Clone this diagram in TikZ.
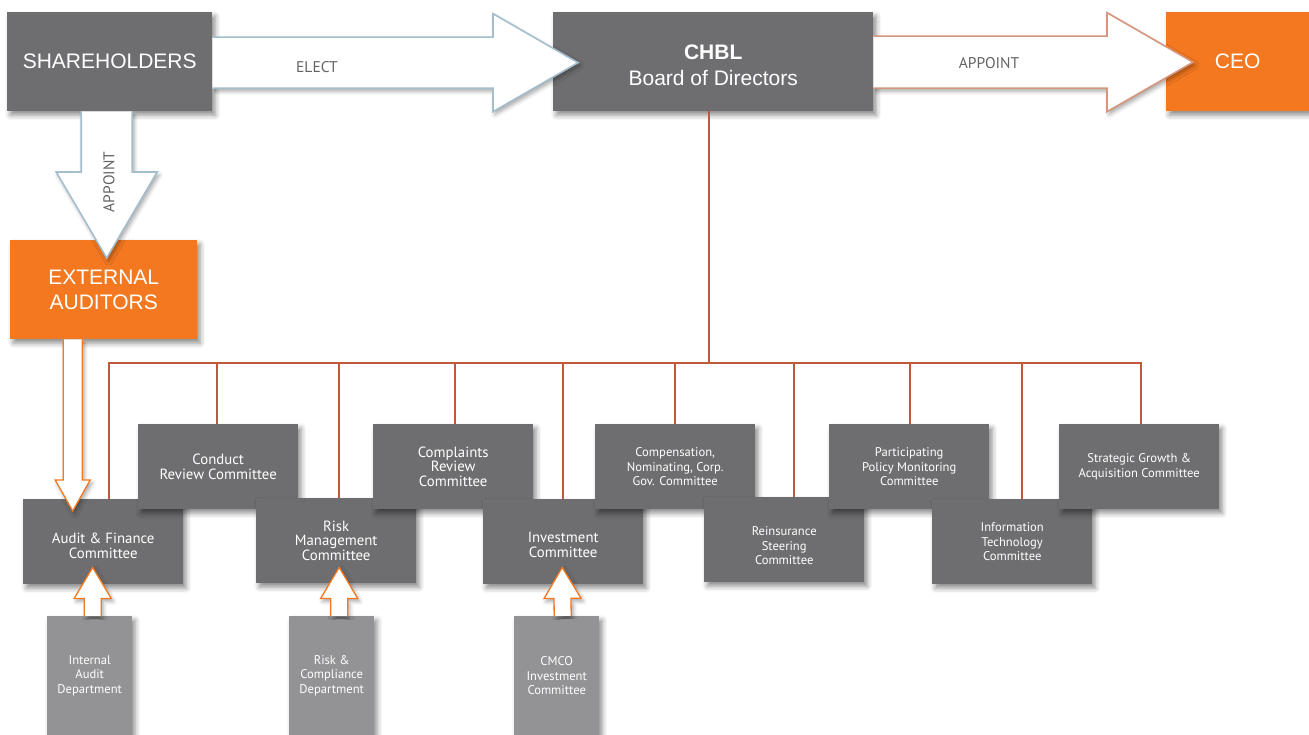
\documentclass[tikz,border=0pt]{standalone}
\usepackage{fontspec}
\setmainfont{Liberation Sans}
\newfontfamily\myriad{PT Sans}
\usepackage{tikz}
\usetikzlibrary{calc, shadows.blur}
\definecolor{boxgray}{RGB}{110,110,112}
\definecolor{deptgray}{RGB}{147,147,149}
\definecolor{cborange}{RGB}{244,120,32}
\definecolor{busred}{RGB}{192,88,58}
\definecolor{elblue}{RGB}{165,190,206}
\definecolor{apsalmon}{RGB}{214,150,126}
\definecolor{labelgray}{RGB}{100,100,100}

% block arrow: [style]{start}{tip}{shaft half width}{head half width}{head length}
\newcommand{\blockarrow}[6][]{%
	\coordinate (ba-s) at (#2);
	\coordinate (ba-t) at (#3);
	\coordinate (ba-b) at ($(ba-t)!#6!(ba-s)$);
	\path[#1] ($(ba-s)!#4!-90:(ba-t)$) -- ($(ba-b)!#4!-90:(ba-t)$)
		-- ($(ba-b)!#5!-90:(ba-t)$) -- (ba-t) -- ($(ba-b)!#5!90:(ba-t)$)
		-- ($(ba-b)!#4!90:(ba-t)$) -- ($(ba-s)!#4!90:(ba-t)$);
}

\begin{document}
\begin{tikzpicture}[x=1pt,y=-1pt]
	
	\tikzset{soft shadow/.style={blur shadow={shadow xshift=3pt, shadow yshift=-4pt,
				shadow blur radius=5pt, shadow opacity=45}}}
	\tikzset{top box/.style={rectangle, fill=boxgray, text=white, anchor=north west,
			inner sep=0pt, align=center, minimum height=99pt,
			font=\fontsize{21}{25}\selectfont, soft shadow}}
	\tikzset{comm/.style={rectangle, fill=boxgray, text=white, anchor=north west,
			inner sep=0pt, minimum width=160pt, minimum height=85pt, align=center,
			font=\myriad\fontsize{14.8}{14.5}\selectfont, soft shadow}}
	\tikzset{comm small/.style={comm, font=\myriad\fontsize{12.6}{14.7}\selectfont}}
	\tikzset{dept/.style={comm small, fill=deptgray, minimum width=85pt, minimum height=119pt}}
	\tikzset{bus line/.style={draw=busred, line width=2pt}}
	\tikzset{arrow label/.style={text=labelgray, inner sep=0pt,
			font=\myriad\fontsize{15.5}{18}\selectfont}}
	\tikzset{big arrow/.style={fill=white, line width=1.6pt, line join=miter,
			blur shadow={shadow xshift=2pt, shadow yshift=-3pt, shadow blur radius=4pt, shadow opacity=35}}}
	\tikzset{small arrow/.style={big arrow, draw=cborange, line width=1.3pt}}
	
	\useasboundingbox (0,0) rectangle (1309,735);
	
	% top row
	\node[top box, minimum width=205pt] (sh) at (7,12) {SHAREHOLDERS};
	\node[top box, minimum width=320pt, font=\fontsize{21}{26}\selectfont] (board) at (553,12) {\rule{0pt}{21pt}\textbf{CHBL}\\Board of Directors};
	\node[top box, fill=cborange, minimum width=143pt] (ceo) at (1166,12) {CEO};
	\node[top box, fill=cborange, minimum width=187pt] (ea) at (10,240) {EXTERNAL\\AUDITORS};
	
	% committees
	\node[comm] (audit) at (23,499) {\rule{0pt}{19pt}Audit \& Finance\\Committee};
	\node[comm] (conduct) at (138,424) {Conduct\\Review Committee};
	\node[comm] (riskm) at (256,498) {Risk\\Management\\Committee};
	\node[comm] (complaints) at (373,424) {Complaints\\Review\\Committee};
	\node[comm] (invest) at (483,499) {\rule{0pt}{17pt}Investment\\Committee};
	\node[comm small] (comp) at (595,424) {Compensation,\\Nominating, Corp.\\Gov. Committee};
	\node[comm small] (reins) at (704,497) {\rule{0pt}{21pt}Reinsurance\\Steering\\Committee};
	\node[comm small] (partic) at (829,424) {Participating\\Policy Monitoring\\Committee};
	\node[comm small] (itc) at (932,499) {Information\\Technology\\Committee};
	\node[comm small] (strat) at (1059,424) {Strategic Growth \&\\Acquisition Committee};
	
	% departments
	\node[dept] (iad) at (47,616) {Internal\\Audit\\Department};
	\node[dept] (rcd) at (289,616) {Risk \&\\Compliance\\Department};
	\node[dept] (cmco) at (514,616) {CMCO\\Investment\\Committee};
	
	% board to committees
	\coordinate (bus) at (0,362.5);
	\draw[bus line] ([xshift=-4pt]board.south) -- ([xshift=-4pt]board.south |- bus);
	\draw[bus line, line cap=rect] ([xshift=6pt]audit.north |- bus) -- ([xshift=2pt]strat.north |- bus);
	\foreach \c/\dx in {audit/6,conduct/-1,riskm/3,complaints/2,invest/0,comp/0,reins/10,partic/1,itc/10,strat/2}
	\draw[bus line] ([xshift=\dx pt]\c.north) -- ([xshift=\dx pt]\c.north |- bus);
	
	% block arrows
	\blockarrow[big arrow, draw=elblue]{$(sh.east)+(0,1)$}{$(board.west)+(25,1)$}{25.5pt}{49pt}{85pt}
	\blockarrow[big arrow, draw=apsalmon]{$(board.east)+(0,0.5)$}{$(ceo.west)+(27,0.5)$}{26pt}{49.5pt}{86pt}
	\blockarrow[big arrow, draw=elblue]{$(sh.south)+(-3,0)$}{$(ea.north)+(3,18)$}{25.5pt}{50.5pt}{86pt}
	\blockarrow[small arrow]{$(ea.south)+(-31,0)$}{$(audit.north)+(-30.5,12)$}{9.5pt}{17.5pt}{31pt}
	\blockarrow[small arrow]{$(iad.north)+(3,0)$}{$(audit.south)+(-10.5,-17)$}{8.5pt}{18.5pt}{31pt}
	\blockarrow[small arrow]{$(rcd.north)+(7.5,0)$}{$(riskm.south)+(3,-16)$}{8.5pt}{18.5pt}{31pt}
	\blockarrow[small arrow]{$(cmco.north)+(6,0)$}{$(invest.south)+(-1,-17)$}{8.5pt}{18.5pt}{31pt}
	
	% arrow labels
	\node[arrow label] (elect) at (317,67) {ELECT};
	\node[arrow label] (appceo) at (989,63) {APPOINT};
	\node[arrow label, rotate=90] (appea) at (109,182) {APPOINT};
	
\end{tikzpicture}
\end{document}
